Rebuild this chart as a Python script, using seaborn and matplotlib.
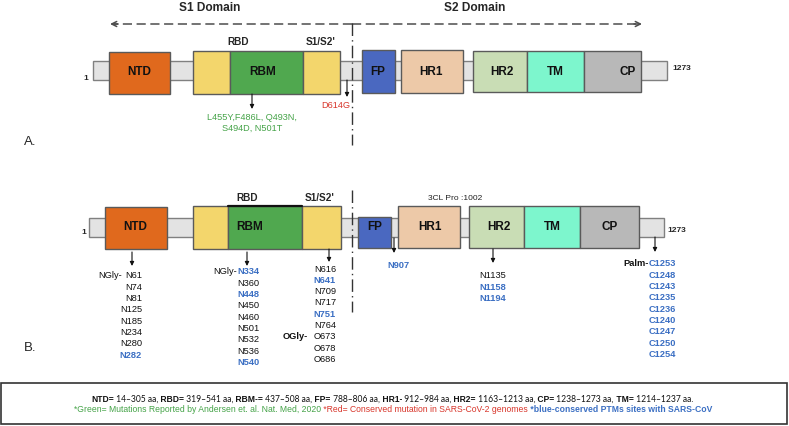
import matplotlib
matplotlib.use("Agg")
import matplotlib.pyplot as plt
import seaborn as sns

# --- data -------------------------------------------------------------
domain_names = ["NTD", "RBD-a", "RBM", "RBD-b", "FP", "HR1", "HR2", "TM", "CP"]
domain_text = ["NTD", "", "RBM", "", "FP", "HR1", "HR2", "TM", "CP"]

mutations_green = ["L455Y,F486L, Q493N,", "S494D, N501T"]
mutation_red = "D614G"

ntd_sites = ["N61", "N74", "N81", "N125", "N185", "N234", "N280", "N282"]
rbd_sites = ["N334", "N360", "N448", "N450", "N460", "N501", "N532", "N536", "N540"]
s1s2_sites = ["N616", "N641", "N709", "N717", "N751", "N764", "O673", "O678", "O686"]
fp_sites = ["N907"]
hr2_sites = ["N1135", "N1158", "N1194"]
palm_sites = ["C1253", "C1248", "C1243", "C1235", "C1236", "C1240", "C1247", "C1250", "C1254"]
conserved = {"N282", "N334", "N448", "N540", "N641", "N751", "N907", "N1158", "N1194"} | set(palm_sites)

range_labels = ["NTD=", "RBD=", "RBM-=", "FP=", "HR1-", "HR2=", "CP=", "TM="]
range_values = ["14–305 aa", "319–541 aa", "437–508 aa", "788–806 aa",
                "912–984 aa", "1163–1213 aa", "1238–1273 aa", "1214–1237 aa"]

# --- layout (pixels) --------------------------------------------------
colors = ["#E0691D", "#F3D66C", "#50A84F", "#F3D66C", "#4A68C0",
          "#EDC9A8", "#C9DDB5", "#7DF6CD", "#B8B8B8"]
a_left = [109, 193, 230, 303, 362, 401, 473, 527, 584]
a_right = [170, 230, 303, 340, 395, 463, 527, 584, 641]
a_top = [52, 51, 51, 51, 50, 50, 51, 51, 51]
a_bot = [94, 94, 94, 94, 93, 93, 92, 92, 92]
a_text_x = [139, 0, 263, 0, 378, 431, 502, 555, 628]

b_left = [105, 193, 228, 302, 358, 398, 469, 524, 580]
b_right = [167, 228, 302, 341, 391, 460, 524, 580, 639]
b_top = [207, 206, 206, 206, 217, 206, 206, 206, 206]
b_bot = [249, 249, 249, 249, 248, 248, 248, 248, 248]
b_text_x = [135, 0, 250, 0, 375, 430, 499, 552, 610]

BLACK = "#111111"
BLUE = "#3B6FC3"
GREEN = "#45A348"
RED = "#D8352A"

sns.set_theme(style="white")
plt.rcParams["font.family"] = ["Liberation Sans", "DejaVu Sans"]

fig = plt.figure(figsize=(7.89, 4.26), dpi=100)
ax = fig.add_axes([0, 0, 1, 1])
ax.set_xlim(0, 789)
ax.set_ylim(426, 0)
ax.axis("off")


def draw_panel(left, right, top, bot, text_x, bb_x0, bb_x1, bb_y0, bb_y1, text_y):
    # backbone
    ax.bar(bb_x0, bb_y1 - bb_y0, width=bb_x1 - bb_x0, bottom=bb_y0, align="edge",
           color="#E3E3E3", edgecolor="#808080", linewidth=1, zorder=1)
    for i, name in enumerate(domain_names):
        ax.bar(left[i], bot[i] - top[i], width=right[i] - left[i], bottom=top[i],
               align="edge", color=colors[i], edgecolor="#5a5a5a", linewidth=1, zorder=2)
        if domain_text[i]:
            ax.text(text_x[i], text_y, domain_text[i], ha="center", va="center",
                    fontsize=8.5, fontweight="bold", color=BLACK, zorder=3)


def down_arrow(x, y0, y1):
    ax.annotate("", xy=(x, y1), xytext=(x, y0),
                arrowprops=dict(arrowstyle="-|>", color=BLACK, lw=0.8,
                                mutation_scale=6, shrinkA=0, shrinkB=0))


# ---- panel A ----
ax.text(210, 8, "S1 Domain", ha="center", va="center", fontsize=8.6, fontweight="bold")
ax.text(475, 8, "S2 Domain", ha="center", va="center", fontsize=8.6, fontweight="bold")
ax.plot([352, 114], [24, 24], ls=(0, (6, 3)), color="#4d4d4d", lw=1.1)
ax.plot([352, 638], [24, 24], ls=(0, (6, 3)), color="#4d4d4d", lw=1.1)
ax.annotate("", xy=(110, 24), xytext=(118, 24),
            arrowprops=dict(arrowstyle="->", color="#4d4d4d", lw=1.1, mutation_scale=9,
                            shrinkA=0, shrinkB=0))
ax.annotate("", xy=(642, 24), xytext=(634, 24),
            arrowprops=dict(arrowstyle="->", color="#4d4d4d", lw=1.1, mutation_scale=9,
                            shrinkA=0, shrinkB=0))
ax.plot([352, 352], [23, 145], ls=(0, (9, 3, 1, 3)), color="#333333", lw=1, zorder=4)
ax.plot([352, 352], [190, 312], ls=(0, (9, 3, 1, 3)), color="#333333", lw=1, zorder=4)

draw_panel(a_left, a_right, a_top, a_bot, a_text_x, 93, 667, 61, 80, 72)
ax.text(238, 42, "RBD", ha="center", va="center", fontsize=7.2, fontweight="bold")
ax.text(321, 42, "S1/S2'", ha="center", va="center", fontsize=7.2, fontweight="bold")
ax.text(86, 78, "1", ha="center", va="center", fontsize=6, fontweight="bold")
ax.text(672, 69, "1273", ha="left", va="center", fontsize=6, fontweight="bold")

down_arrow(252, 94, 109)
for k, line in enumerate(mutations_green):
    ax.text(252, 117 + 11 * k, line, ha="center", va="center", fontsize=6.6, color=GREEN)
down_arrow(347, 80, 97)
ax.text(336, 106, mutation_red, ha="center", va="center", fontsize=6.6, color=RED)
ax.text(30, 142, "A.", ha="center", va="center", fontsize=9.5)

# ---- panel B ----
draw_panel(b_left, b_right, b_top, b_bot, b_text_x, 89, 664, 218, 237, 227)
ax.plot([228, 302], [206, 206], color=BLACK, lw=1.6, zorder=3)
ax.text(247, 198, "RBD", ha="center", va="center", fontsize=7.2, fontweight="bold")
ax.text(320, 198, "S1/S2'", ha="center", va="center", fontsize=7.2, fontweight="bold")
ax.text(455, 199, "3CL Pro :1002", ha="center", va="center", fontsize=6, color="#222222")
ax.text(84, 232, "1", ha="center", va="center", fontsize=6, fontweight="bold")
ax.text(667, 231, "1273", ha="left", va="center", fontsize=6, fontweight="bold")
ax.text(30, 348, "B.", ha="center", va="center", fontsize=9.5)

down_arrow(132, 252, 266)
down_arrow(247, 252, 266)
down_arrow(329, 249, 262)
down_arrow(394, 238, 253)
down_arrow(493, 249, 263)
down_arrow(655, 237, 252)

STEP = 11.3


def site_column(x, y0, sites, ha):
    for k, s in enumerate(sites):
        blue = s in conserved
        ax.text(x, y0 + k * STEP, s, ha=ha, va="center", fontsize=6.7,
                color=BLUE if blue else BLACK, fontweight="bold" if blue else "normal")


site_column(142, 276, ntd_sites, "right")
ax.text(122, 276, "NGly-", ha="right", va="center", fontsize=6.7, color=BLACK)
site_column(237, 272, rbd_sites, "left")
ax.text(237, 272, "NGly-", ha="right", va="center", fontsize=6.7, color=BLACK)
site_column(336, 269, s1s2_sites, "right")
ax.text(308, 269 + 6 * STEP, "OGly-", ha="right", va="center", fontsize=6.7,
        fontweight="bold", color=BLACK)
site_column(398, 265, fp_sites, "center")
site_column(479, 276, hr2_sites, "left")
site_column(649, 264, palm_sites, "left")
ax.text(649, 264, "Palm-", ha="right", va="center", fontsize=6.7,
        fontweight="bold", color=BLACK)

# ---- footer ----
ax.add_patch(plt.Rectangle((1, 383), 786, 41, fill=False, edgecolor="#333333", lw=1.2))

renderer = fig.canvas.get_renderer()


def text_width(s, **kw):
    t = ax.text(0, 0, "I" + s + "I", **kw)
    i = ax.text(0, 0, "I", **kw)
    w = t.get_window_extent(renderer).width - 2 * i.get_window_extent(renderer).width
    t.remove()
    i.remove()
    return w


def write_line(y, xc, pieces):
    widths = [text_width(s, **kw) for s, kw in pieces]
    x = xc - sum(widths) / 2
    for (s, kw), w in zip(pieces, widths):
        ax.text(x, y, s, ha="left", va="center", **kw)
        x += w


bold_kw = dict(fontsize=6.15, fontweight="bold", color=BLACK)
num_kw = dict(fontsize=6.15, family=["Lato", "DejaVu Sans"], color=BLACK)
line1 = []
for k, (lab, val) in enumerate(zip(range_labels, range_values)):
    lead = "" if k == 0 else " "
    line1.append((lead + lab, bold_kw))
    tail = "." if k == len(range_labels) - 1 else ","
    line1.append((" " + val + tail, num_kw))
write_line(399, 392, line1)

line2 = [
    ("*Green= Mutations Reported by Andersen et. al. Nat. Med, 2020", dict(fontsize=6.25, color=GREEN)),
    (" *Red= Conserved mutation in SARS-CoV-2 genomes", dict(fontsize=6.25, color=RED)),
    (" *blue-conserved PTMs sites with SARS-CoV", dict(fontsize=6.25, color=BLUE, fontweight="bold")),
]
write_line(410, 393, line2)

fig.savefig("out.png", dpi=100)
